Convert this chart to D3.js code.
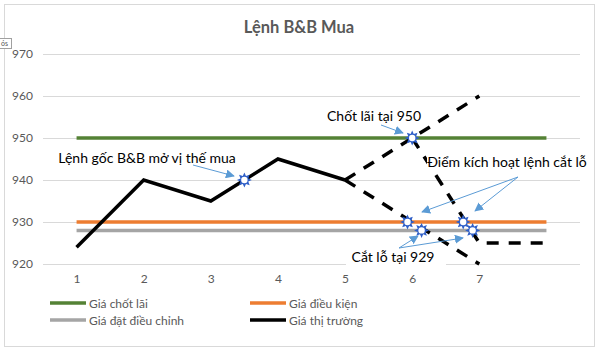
<!DOCTYPE html>
<html>
<head>
<meta charset="utf-8">
<script src="https://cdn.jsdelivr.net/npm/d3@7/dist/d3.min.js"></script>
<style>
  html, body { margin: 0; padding: 0; background: #fff; }
  svg { display: block; font-family: Lato, "Open Sans", sans-serif; }
</style>
</head>
<body>
<svg id="chart" width="600" height="355"></svg>
<script>
// ---------- data ----------
const title = "Lệnh B&B Mua";
const categories = ["1", "2", "3", "4", "5", "6", "7", ""];
const yTicks = [920, 930, 940, 950, 960, 970];

const takeProfit     = [950, 950, 950, 950, 950, 950, 950, 950];
const conditionPrice = [930, 930, 930, 930, 930, 930, 930, 930];
const adjustPrice    = [928, 928, 928, 928, 928, 928, 928, 928];
const marketPrice    = [924, 940, 935, 945, 940, null, null, null];
const scenarioUp     = [null, null, null, null, 940, 950, 960, null];
const scenarioDown   = [null, null, null, null, 940, 930, 920, null];
const scenarioStop   = [null, null, null, null, null, 950, 925, 925];

const seriesNames = ["Giá chốt lãi", "Giá điều kiện", "Giá đặt điều chỉnh", "Giá thị trường"];
const seriesColors = ["#548235", "#ED7D31", "#A5A5A5", "#000000"];

// star markers: position on the category axis (1-based) and value
const markerPos = [3.5, 6, 5.93, 6.14, 6.76, 6.9];
const markerVal = [940, 950, 930, 928, 930, 928];

const annotations = ["Lệnh gốc B&B mở vị thế mua", "Chốt lãi tại 950", "Điểm kích hoạt lệnh cắt lỗ", "Cắt lỗ tại 929"];

// ---------- layout ----------
const svg = d3.select("#chart");
const plot = { left: 43, right: 580, top: 54, bottom: 264 };

const x = d3.scaleLinear().domain([0.5, categories.length + 0.5]).range([plot.left, plot.right]);
const y = d3.scaleLinear().domain([920, 970]).range([plot.bottom, plot.top]);

// chart border
svg.append("rect").attr("x", 4.5).attr("y", 4.5).attr("width", 590).attr("height", 342)
  .attr("fill", "#fff").attr("stroke", "#d9d9d9").attr("stroke-width", 1);

// small cropped tooltip box at top-left
svg.append("rect").attr("x", -2).attr("y", 38.5).attr("width", 13.5).attr("height", 10)
  .attr("fill", "#fff").attr("stroke", "#a0a0a0").attr("stroke-width", 1);
svg.append("text").attr("x", 1).attr("y", 46).attr("font-size", 7).attr("fill", "#555").text("ós");

// title
svg.append("text").attr("x", 299).attr("y", 27).attr("text-anchor", "middle")
  .attr("dominant-baseline", "central").attr("font-size", 16.5).attr("font-weight", "bold")
  .attr("fill", "#595959").text(title);

// gridlines
const yAxis = d3.axisLeft(y).tickValues(yTicks).tickSize(-(plot.right - plot.left)).tickPadding(10);
const gy = svg.append("g").attr("transform", `translate(${plot.left},0)`).call(yAxis);
gy.select(".domain").remove();
gy.selectAll(".tick line").attr("stroke", "#d9d9d9").attr("stroke-width", 1);
gy.selectAll(".tick text").attr("font-size", 12).attr("fill", "#595959")
  .attr("font-family", "Lato, sans-serif");

// x axis labels
const xAxis = d3.axisBottom(x).tickValues(d3.range(1, categories.length + 1))
  .tickFormat(i => categories[i - 1]).tickSize(0).tickPadding(10);
const gx = svg.append("g").attr("transform", `translate(0,${plot.bottom})`).call(xAxis);
gx.select(".domain").remove();
gx.selectAll(".tick text").attr("font-size", 12).attr("fill", "#595959")
  .attr("font-family", "Lato, sans-serif");

// series lines
const lineGen = d3.line().defined(d => d != null).x((d, i) => x(i + 1)).y(d => y(d));
function drawSeries(data, color, dash) {
  svg.append("path").datum(data).attr("d", lineGen)
    .attr("fill", "none").attr("stroke", color).attr("stroke-width", 3.5)
    .attr("stroke-linejoin", "miter")
    .attr("stroke-dasharray", dash || null);
}
drawSeries(takeProfit, seriesColors[0]);
drawSeries(conditionPrice, seriesColors[1]);
drawSeries(adjustPrice, seriesColors[2]);
drawSeries(marketPrice, seriesColors[3]);
drawSeries(scenarioUp, "#000", "12,10");
drawSeries(scenarioDown, "#000", "12,10");
drawSeries(scenarioStop, "#000", "12,10");

// annotation text boxes
const annoLayout = [
  { cx: 147, cy: 157, box: false },
  { cx: 374, cy: 115, box: false },
  { cx: 507, cy: 161, box: [427, 151, 163, 22] },
  { cx: 393, cy: 256, box: [346, 246, 100, 22] }
];
annoLayout.forEach((a, i) => {
  if (a.box) svg.append("rect").attr("x", a.box[0]).attr("y", a.box[1])
    .attr("width", a.box[2]).attr("height", a.box[3]).attr("fill", "#fff");
  svg.append("text").attr("x", a.cx).attr("y", a.cy).attr("text-anchor", "middle")
    .attr("dominant-baseline", "central").attr("font-size", 14).attr("fill", "#000")
    .text(annotations[i]);
});

// arrows
const defs = svg.append("defs");
defs.append("marker").attr("id", "arr").attr("viewBox", "0 0 10 10").attr("refX", 9).attr("refY", 5)
  .attr("markerWidth", 9).attr("markerHeight", 9).attr("markerUnits", "userSpaceOnUse")
  .attr("orient", "auto")
  .append("path").attr("d", "M0,0 L10,5 L0,10 z").attr("fill", "#5B9BD5");
const arrows = [
  [193, 165, 234, 176],
  [381, 125, 403, 133],
  [518, 177, 422, 212],
  [518, 177, 475, 211],
  [399, 248, 418, 236],
  [399, 248, 463, 238]
];
arrows.forEach(a => {
  svg.append("line").attr("x1", a[0]).attr("y1", a[1]).attr("x2", a[2]).attr("y2", a[3])
    .attr("stroke", "#5B9BD5").attr("stroke-width", 1).attr("marker-end", "url(#arr)");
});

// star markers
function starPath(r1, r2, n) {
  const pts = [];
  for (let k = 0; k < 2 * n; k++) {
    const r = k % 2 === 0 ? r1 : r2;
    const ang = -Math.PI / 2 + k * Math.PI / n;
    pts.push([r * Math.cos(ang), r * Math.sin(ang)]);
  }
  return "M" + pts.map(p => p.join(",")).join("L") + "Z";
}
const star = starPath(7.5, 4.2, 8);
markerPos.forEach((p, i) => {
  const g = svg.append("g").attr("transform", `translate(${x(p)},${y(markerVal[i])})`);
  g.append("path").attr("d", star).attr("fill", "#2F5FC8");
  g.append("circle").attr("r", 3.2).attr("fill", "#fff");
});

// legend
const legendPos = [[50, 303], [250, 303], [50, 320], [250, 320]];
seriesNames.forEach((name, i) => {
  const [lx, ly] = legendPos[i];
  svg.append("line").attr("x1", lx).attr("x2", lx + 36).attr("y1", ly).attr("y2", ly)
    .attr("stroke", seriesColors[i]).attr("stroke-width", 3.5);
  svg.append("text").attr("x", lx + 39).attr("y", ly).attr("dominant-baseline", "central")
    .attr("font-size", 12).attr("fill", "#595959").text(name);
});
</script>
</body>
</html>
